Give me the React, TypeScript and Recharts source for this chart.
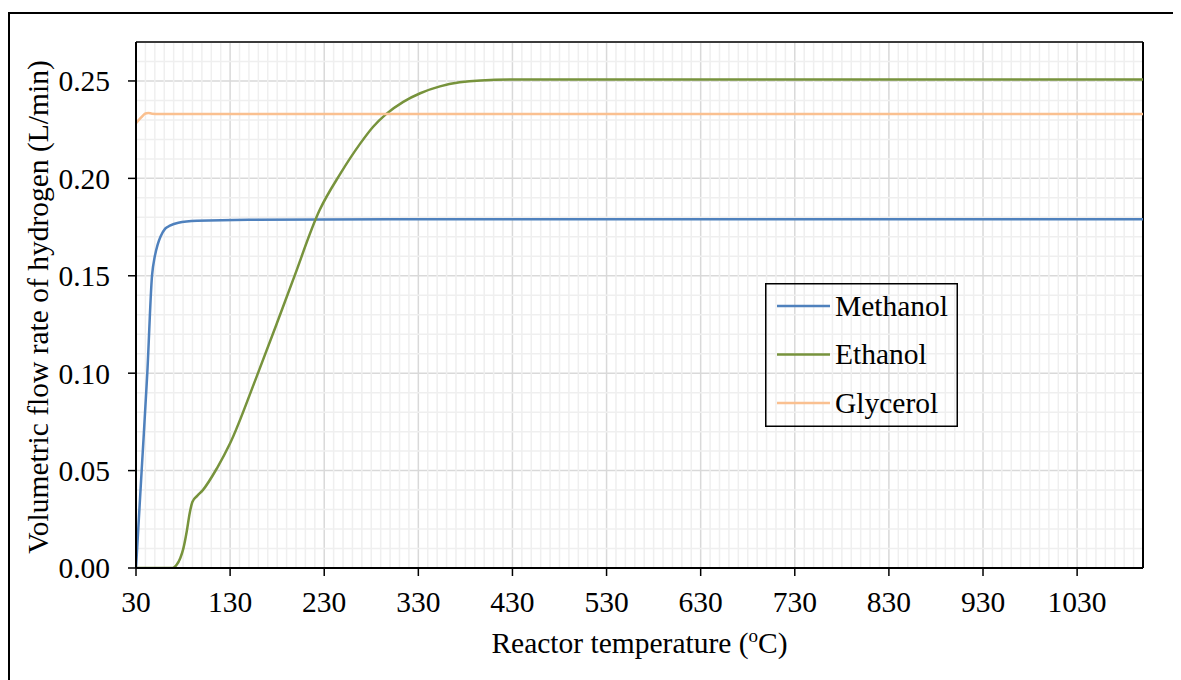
import React from "react";
import { CartesianGrid, Legend, Line, LineChart, ReferenceLine, XAxis, YAxis } from "recharts";

// reactor temperature (°C) vs volumetric flow rate of hydrogen (L/min)
const methanolTemp = [30, 36, 42, 47, 50, 53, 56, 61, 66, 75, 95, 150, 300, 1100];
const methanolFlow = [0, 0.05, 0.1, 0.15, 0.16, 0.166, 0.17, 0.1742, 0.1757, 0.1772, 0.1782, 0.1788, 0.179, 0.179];

const ethanolTemp = [30, 69, 73, 77, 80, 84, 87, 90, 95, 101, 116, 130, 158, 180, 197, 225, 247, 268, 282, 296, 314, 332, 353, 374, 396, 430, 1100];
const ethanolFlow = [0, 0, 0.0015, 0.005, 0.0094, 0.019, 0.028, 0.034, 0.037, 0.04, 0.0512, 0.064, 0.098, 0.126, 0.148, 0.1836, 0.2023, 0.2177, 0.2265, 0.2331, 0.2393, 0.2437, 0.2472, 0.2493, 0.2503, 0.2507, 0.2507];

const glycerolTemp = [30, 35, 40, 43, 47, 55, 1100];
const glycerolFlow = [0.2283, 0.231, 0.2333, 0.2336, 0.2332, 0.2331, 0.2331];

const xTicks = [30, 130, 230, 330, 430, 530, 630, 730, 830, 930, 1030];
const yTicks = [0, 0.05, 0.1, 0.15, 0.2, 0.25];
// minor grid every 10 °C and every 0.01 L/min, skipping the major lines
const xMinorTicks = Array.from({ length: 108 }, (_, i) => 30 + i * 10).filter((v) => (v - 30) % 100 !== 0);
const yMinorTicks = Array.from({ length: 28 }, (_, i) => i).filter((i) => i % 5 !== 0).map((i) => i / 100);

const font = "'Liberation Serif', 'Times New Roman', serif";
const fontSize = 29.5;

const toPoints = (temps: number[], flows: number[]) =>
  temps.map((temp, i) => ({ temp, flow: flows[i] }));

const series = [
  { name: "Methanol", color: "#4f81bd", data: toPoints(methanolTemp, methanolFlow) },
  { name: "Ethanol", color: "#77933c", data: toPoints(ethanolTemp, ethanolFlow) },
  { name: "Glycerol", color: "#fac090", data: toPoints(glycerolTemp, glycerolFlow) }
];

const tickStyle = { fill: "#000", fontSize, fontFamily: font };

function LegendBox() {
  return (
    <svg width={193} height={144} style={{ display: "block" }}>
      <rect x={0.75} y={0.75} width={191.5} height={142.5} fill="none" stroke="#000" strokeWidth={1.5} />
      {series.map((s, i) => (
        <g key={s.name}>
          <line x1={12} x2={65} y1={23 + i * 48.5} y2={23 + i * 48.5} stroke={s.color} strokeWidth={2.5} />
          <text x={70} y={23 + i * 48.5} dy="0.33em" fontSize={fontSize} fontFamily={font} fill="#000">
            {s.name}
          </text>
        </g>
      ))}
    </svg>
  );
}

export default function App() {
  return (
    <div style={{ position: "relative", width: 1173, height: 672, overflow: "hidden" }}>
      <div
        style={{
          position: "absolute",
          left: 0,
          top: 4,
          width: 1200,
          height: 700,
          border: "2px solid #000",
          boxSizing: "border-box"
        }}
      />
      <div style={{ position: "absolute", left: 0, top: 0 }}>
        <LineChart width={1173} height={672} margin={{ top: 34, right: 38, left: 0, bottom: 0 }}>
          <XAxis
            xAxisId="main"
            type="number"
            dataKey="temp"
            domain={[30, 1100]}
            ticks={xTicks}
            allowDataOverflow
            height={112}
            tickSize={8}
            tickMargin={15}
            tick={tickStyle}
            axisLine={{ stroke: "#000", strokeWidth: 2 }}
            tickLine={{ stroke: "#000", strokeWidth: 1.5 }}
            label={{
              content: () => (
                <text x={631.5} y={645} textAnchor="middle" fontSize={fontSize} fontFamily={font} fill="#000">
                  Reactor temperature (
                  <tspan fontSize={19} dy={-11}>o</tspan>
                  <tspan dy={11}>C)</tspan>
                </text>
              )
            }}
          />
          <YAxis
            yAxisId="main"
            type="number"
            domain={[0, 0.27]}
            ticks={yTicks}
            allowDataOverflow
            width={128}
            tickSize={8}
            tickMargin={18}
            tick={tickStyle}
            tickFormatter={(v: number) => v.toFixed(2)}
            axisLine={{ stroke: "#000", strokeWidth: 2 }}
            tickLine={{ stroke: "#000", strokeWidth: 1.5 }}
            label={{
              content: () => (
                <text
                  x={30}
                  y={299}
                  transform="rotate(-90 30 299)"
                  textAnchor="middle"
                  dy="0.35em"
                  fontSize={fontSize}
                  fontFamily={font}
                  fill="#000"
                >
                  Volumetric flow rate of hydrogen (L/min)
                </text>
              )
            }}
          />
          {xMinorTicks.map((v) => (
            <ReferenceLine key={`mx${v}`} xAxisId="main" yAxisId="main" x={v} stroke="#efefef" strokeWidth={1.5} />
          ))}
          {yMinorTicks.map((v) => (
            <ReferenceLine key={`my${v}`} xAxisId="main" yAxisId="main" y={v} stroke="#efefef" strokeWidth={1.5} />
          ))}
          <CartesianGrid xAxisId="main" yAxisId="main" stroke="#d9d9d9" strokeWidth={1.5} />
          <ReferenceLine xAxisId="main" yAxisId="main" y={0.27} stroke="#000" strokeWidth={1.5} />
          <ReferenceLine xAxisId="main" yAxisId="main" x={1100} stroke="#000" strokeWidth={2} />
          {series.map((s) => (
            <Line
              key={s.name}
              xAxisId="main"
              yAxisId="main"
              data={s.data}
              dataKey="flow"
              name={s.name}
              type="monotone"
              stroke={s.color}
              strokeWidth={2.5}
              dot={false}
              activeDot={false}
              isAnimationActive={false}
            />
          ))}
          <Legend
            layout="vertical"
            align="center"
            verticalAlign="middle"
            content={() => <LegendBox />}
            wrapperStyle={{ left: 757, top: 275, width: 193, height: 144 }}
          />
        </LineChart>
      </div>
    </div>
  );
}
